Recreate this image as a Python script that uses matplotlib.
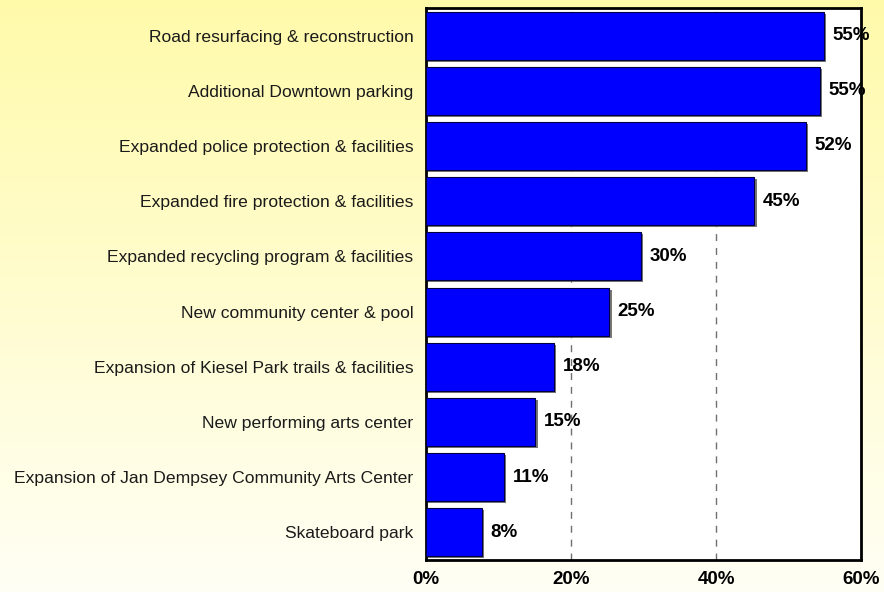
import matplotlib
matplotlib.use('Agg')
import matplotlib.pyplot as plt
import matplotlib.patheffects as pe
from matplotlib.transforms import offset_copy
import numpy as np

# Data (top to bottom)
projects = [
    'Road resurfacing & reconstruction',
    'Additional Downtown parking',
    'Expanded police protection & facilities',
    'Expanded fire protection & facilities',
    'Expanded recycling program & facilities',
    'New community center & pool',
    'Expansion of Kiesel Park trails & facilities',
    'New performing arts center',
    'Expansion of Jan Dempsey Community Arts Center',
    'Skateboard park',
]
support = [54.9, 54.4, 52.4, 45.3, 29.7, 25.3, 17.7, 15.1, 10.8, 7.7]
value_labels = ['55%', '55%', '52%', '45%', '30%', '25%', '18%', '15%', '11%', '8%']
x_ticks = [0, 20, 40, 60]

plt.rcParams['font.family'] = ['Liberation Sans', 'DejaVu Sans']

fig = plt.figure(figsize=(8.84, 5.92), dpi=100)

# Yellow-to-white vertical gradient background
bg = fig.add_axes([0, 0, 1, 1], zorder=0)
top = np.array([255, 250, 170]) / 255
bottom = np.array([255, 255, 245]) / 255
t = np.linspace(0, 1, 256)[:, None]
grad = top * (1 - t) + bottom * t
bg.imshow(grad[:, None, :], aspect='auto', extent=[0, 1, 0, 1])
bg.set_axis_off()

ax = fig.add_axes([426 / 884, 1 - 560 / 592, 435 / 884, 552 / 592], zorder=1)
ax.set_facecolor('white')

y = np.arange(len(projects))
bars = ax.barh(y, support, height=0.87, color='#0000FF', edgecolor='#000040',
               linewidth=0.8, zorder=3)
for b in bars:
    b.set_path_effects([pe.SimplePatchShadow(offset=(1.5, -1.5), shadow_rgbFace='#555555', alpha=0.8),
                        pe.Normal()])

label_trans = offset_copy(ax.transData, fig=fig, x=6, y=0, units='points')
for yi, v, lab in zip(y, support, value_labels):
    ax.text(v, yi, lab, va='center', ha='left', fontsize=13.5,
            fontweight='bold', zorder=4, transform=label_trans)

ax.set_xlim(0, 60)
ax.set_ylim(len(projects) - 0.5, -0.5)
ax.set_xticks(x_ticks)
ax.set_xticklabels([f'{v}%' for v in x_ticks], fontsize=13.5, fontweight='bold')
ax.set_yticks(y)
ax.set_yticklabels(projects, fontsize=12.6, color='#1a1a1a')
ax.tick_params(axis='x', length=0, pad=8)
ax.tick_params(axis='y', length=0, pad=9)
ax.xaxis.grid(True, linestyle=(0, (5, 5)), color='#707070', linewidth=1, zorder=1)
ax.set_axisbelow(True)
for s in ax.spines.values():
    s.set_linewidth(2)
    s.set_color('black')

fig.savefig('out.png', dpi=100)
